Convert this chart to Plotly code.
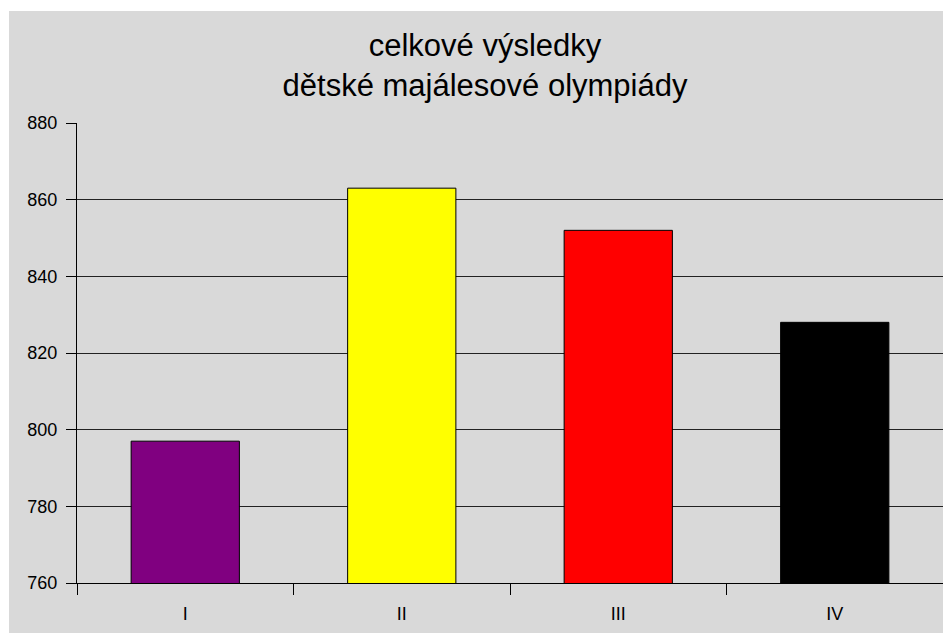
import plotly.graph_objects as go

categories = ["I", "II", "III", "IV"]
values = [797, 863, 852, 828]
colors = ["#800080", "#ffff00", "#ff0000", "#000000"]
title_lines = ["celkové výsledky", "dětské majálesové olympiády"]
y_ticks = [760, 780, 800, 820, 840, 860, 880]

W, H = 951, 633
L, R, T, B = 69, 16, 115, 58
pw, ph = W - L - R, H - T - B

fig = go.Figure(go.Bar(
    x=categories, y=values, width=0.5,
    marker=dict(color=colors, line=dict(color="#000000", width=1)),
))

# grey chart area
gx0, gy0 = 1, 3
fig.add_shape(type="rect", xref="paper", yref="paper", layer="below",
              x0=(gx0 - L) / pw, x1=(W - L) / pw,
              y0=-B / ph, y1=(H - B - gy0) / ph,
              line=dict(width=0), fillcolor="#d9d9d9")

fig.update_layout(
    width=W, height=H,
    margin=dict(l=L, r=R, t=T, b=B),
    paper_bgcolor="#ffffff", plot_bgcolor="rgba(0,0,0,0)",
    showlegend=False,
    font=dict(family="Liberation Sans, Arial, sans-serif", color="#000000", size=18),
    title=dict(text="<br>".join(title_lines), x=477 / W, xanchor="center",
               y=1 - 47.5 / H, yanchor="middle",
               font=dict(size=31, color="#000000")),
)
fig.update_yaxes(range=[760, 880], tickvals=y_ticks, showgrid=True,
                 gridcolor="#222222", gridwidth=1, showline=True, linecolor="#000000",
                 linewidth=1, ticks="outside", ticklen=10, tickcolor="#000000",
                 zeroline=False, ticklabelstandoff=5)
fig.update_xaxes(showline=True, linecolor="#000000", linewidth=1, ticks="outside",
                 tickson="boundaries", ticklen=11, tickcolor="#000000", showgrid=False,
                 ticklabelstandoff=14)

fig.write_html("out.html")
